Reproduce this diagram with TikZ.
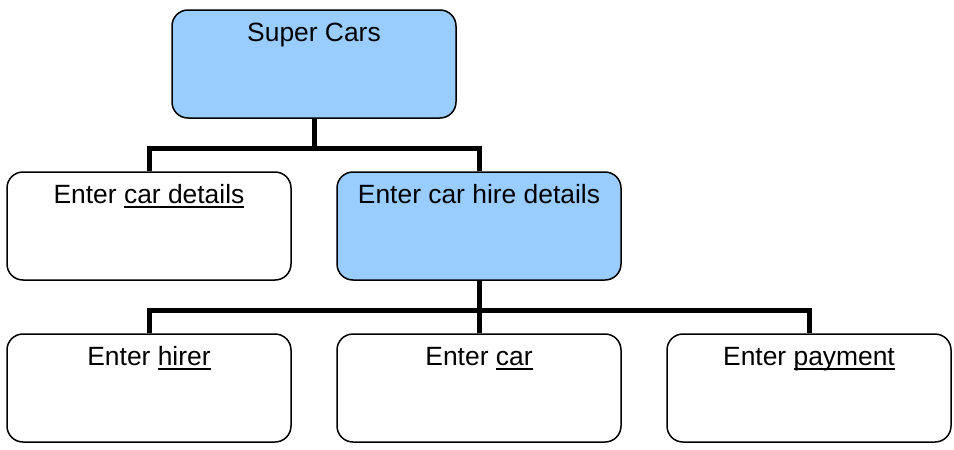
\documentclass[tikz,border=0pt]{standalone}
\usepackage{fontspec}
\setmainfont{Liberation Sans}
\newcommand\ulx[1]{\setbox0\hbox{#1}\rlap{\rule[-5pt]{\wd0}{2pt}}\box0}
\definecolor{boxblue}{HTML}{99CCFF}
\tikzset{
  hbox/.style={draw=black, line width=1.5pt, rounded corners=16pt, fill=white,
    minimum width=284pt, inner sep=0pt, text height=31pt, text depth=77pt,
    font=\fontsize{26.4pt}{30pt}\selectfont},
  hblue/.style={hbox, fill=boxblue},
  conn/.style={line width=5pt, line join=miter}
}
\begin{document}
\begin{tikzpicture}[x=1pt,y=-1pt]
\useasboundingbox (0,0) rectangle (954,450);
\node[hblue] (sc) at (314,64) {Super Cars};
\node[hbox]  (cd) at (149,226) {Enter \ulx{car details}};
\node[hblue] (hd) at (479,226) {Enter car hire details};
\node[hbox]  (h1) at (149,388) {Enter \ulx{hirer}};
\node[hbox]  (h2) at (479,388) {Enter \ulx{car}};
\node[hbox]  (h3) at (809,388) {Enter \ulx{payment}};
\coordinate (b1) at (314,148.5);
\coordinate (b2) at (479,310);
\draw[conn] (sc.south) -- (b1);
\draw[conn] (cd.north) |- (b1) -| (hd.north);
\draw[conn] (hd.south) -- (h2.north);
\draw[conn] (h1.north) |- (b2) -| (h3.north);
\end{tikzpicture}
\end{document}
